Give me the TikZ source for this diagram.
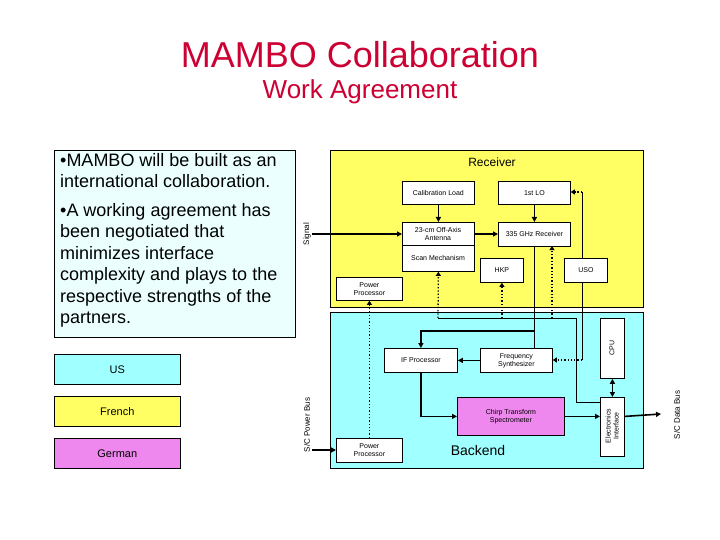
\documentclass[tikz,border=0pt]{standalone}
\usepackage{fontspec}
\setmainfont{Liberation Sans}
\usetikzlibrary{arrows.meta}
\definecolor{ttl}{RGB}{204,0,51}
\definecolor{yel}{RGB}{255,255,100}
\definecolor{cya}{RGB}{160,255,255}
\definecolor{pcy}{RGB}{235,255,255}
\definecolor{mag}{RGB}{238,136,238}
\tikzset{
 blk/.style={draw, fill=white, line width=0.8pt, inner sep=0pt, font=\fontsize{7}{8}\selectfont, align=center},
 area/.style={draw, line width=0.8pt, inner sep=0pt},
 legend/.style={draw, line width=0.6pt, minimum width=126, minimum height=30, inner sep=0pt, font=\fontsize{11}{13}\selectfont},
 thick arr/.style={line width=1.6pt, -{Triangle[length=5pt,width=5pt]}},
 thin/.style={line width=0.8pt},
 dot arr/.style={line width=1.3pt, dotted, -{Triangle[length=4pt,width=5pt]}},
 vlab/.style={rotate=90, font=\fontsize{8}{9}\selectfont},
}
\begin{document}
\begin{tikzpicture}[x=1pt,y=-1pt]
\useasboundingbox (0,0) rectangle (720,540);
\node[text=ttl, font=\fontsize{36}{40}\selectfont] (t1) at (360,55) {MAMBO Collaboration};
\node[text=ttl, font=\fontsize{26}{30}\selectfont] (t2) at (360,92) {Work Agreement};
% text box
\node[draw, fill=pcy, line width=0.6pt, anchor=north west, minimum width=241, minimum height=187, inner sep=0pt] (tb) at (54,150) {};
\node[anchor=north west, align=left, inner sep=0pt, font=\fontsize{18}{21.5}\selectfont] (tx) at (60,153)
 {•MAMBO will be built as an\\international collaboration.\\[7pt]•A working agreement has\\been negotiated that\\minimizes interface\\complexity and plays to the\\respective strengths of the\\partners.};
\node[legend, fill=cya, anchor=north west] (us) at (54,354) {US};
\node[legend, fill=yel, anchor=north west] (fr) at (54,396) {French};
\node[legend, fill=mag, anchor=north west] (de) at (54,438) {German};
% areas
\node[area, fill=yel, anchor=north west, minimum width=313, minimum height=157] (rx) at (330,150) {};
\node[area, fill=cya, anchor=north west, minimum width=313, minimum height=156] (be) at (330,312) {};
\node[font=\fontsize{12}{14}\selectfont] (rxl) at (492,162) {Receiver};
\node[font=\fontsize{14}{16}\selectfont] (bel) at (478,450) {Backend};
% receiver blocks
\node[blk, anchor=north west, minimum width=72, minimum height=23] (cal) at (402,181) {Calibration Load};
\node[blk, anchor=north west, minimum width=72, minimum height=23] (lo) at (498,181) {1st LO};
\node[blk, anchor=north west, minimum width=72, minimum height=49] (ant) at (402,222) {};
\node[font=\fontsize{7}{8}\selectfont, align=center] (antl) at (438,234) {23-cm Off-Axis\\Antenna};
\node[font=\fontsize{7}{8}\selectfont] (scan) at (438,258) {Scan Mechanism};
\draw[thin] (402,245) -- (474,245);
\node[blk, anchor=north west, minimum width=72, minimum height=24] (r335) at (498,222) {335 GHz Receiver};
\node[blk, anchor=north west, minimum width=43, minimum height=24] (hkp) at (480,258) {HKP};
\node[blk, anchor=north west, minimum width=43, minimum height=24] (uso) at (564,258) {USO};
\node[blk, anchor=north west, minimum width=66, minimum height=23] (pp1) at (336,277) {Power\\Processor};
% backend blocks
\node[blk, anchor=north west, minimum width=73, minimum height=24] (ifp) at (384,348) {IF Processor};
\node[blk, anchor=north west, minimum width=72, minimum height=24] (fs) at (480,348) {Frequency\\Synthesizer};
\node[blk, fill=mag, anchor=north west, minimum width=107, minimum height=38] (cts) at (457,397) {Chirp Transform\\Spectrometer};
\node[blk, anchor=north west, minimum width=24, minimum height=60] (cpu) at (600,318) {};
\node[rotate=90, font=\fontsize{7}{8}\selectfont] (cpul) at (612,348) {CPU};
\node[blk, anchor=north west, minimum width=24, minimum height=59] (ei) at (600,397) {};
\node[rotate=90, font=\fontsize{7}{8}\selectfont, align=center] (eil) at (612,426) {Electronics\\Interface};
\node[blk, anchor=north west, minimum width=66, minimum height=24] (pp2) at (336,438) {Power\\Processor};
% external labels
\node[vlab] (sig) at (307,234) {Signal};
\node[vlab] (pwr) at (307,425) {S/C Power Bus};
\node[vlab] (dbus) at (677,415) {S/C Data Bus};
\coordinate (sigs) at (312,234);
\coordinate (pwrs) at (312,450);
\coordinate (dbe) at (661,414);
% connectors
\draw[thick arr] (sigs) -- (ant.west|-sigs);
\draw[thick arr] (pwrs) -- (pp2.west|-pwrs);
\draw[thick arr] (cal) -- (ant);
\draw[thick arr] (lo) -- (r335);
\draw[thick arr] (ant.east|-sigs) -- (r335.west|-sigs);
\draw[thick arr] (fs) -- (ifp);
\draw[thick arr] (ifp.south) |- (cts.west);
\draw[thick arr] (cts.east) -- (ei.west|-cts.east);
\draw[thick arr] (ei.east|-cts.east) -- (dbe);
\draw[line width=1.6pt, {Triangle[length=5pt,width=5pt]}-{Triangle[length=5pt,width=5pt]}] (cpu) -- (ei);
\draw[thin] (534,246) -- (534,348);
\draw[line width=1.2pt, -{Triangle[length=5pt,width=5pt]}] (534,331) -| (ifp.north);
\draw[thin] (ei.west|-0,402) -| (576,318) -- (438,318);
\draw[dot arr] (438,318) -- (ant.south);
\draw[dot arr] (hkp.south|-0,318) -- (hkp.south);
\draw[dot arr] (552,318) -- (552,246);
\draw[dot arr] (pp2.north) -- (pp1.south-|pp2.north);
\draw[thin] (uso.north-|582,0) -- (582,192);
\draw[dot arr] (582,192) -- (lo.east|-0,192);
\draw[thin] (uso.south-|582,0) -- (582,360);
\draw[dot arr] (582,360) -- (fs.east|-0,360);
\end{tikzpicture}
\end{document}
